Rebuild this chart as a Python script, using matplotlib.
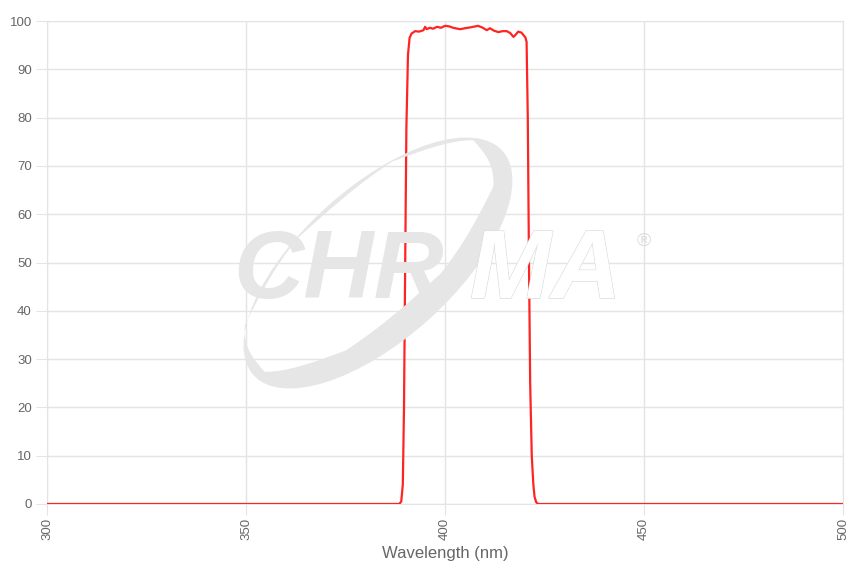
import numpy as np
import matplotlib
matplotlib.use("Agg")
import matplotlib.pyplot as plt
from matplotlib.patches import Ellipse, PathPatch
from matplotlib.path import Path
from matplotlib.transforms import IdentityTransform
import matplotlib.patheffects as pe

plt.rcParams['font.family'] = ['Liberation Sans', 'DejaVu Sans']

# transmission curve
wavelength = [300, 388.5, 389.0, 389.4, 389.7, 390.0, 390.3, 390.7, 391.1, 391.6, 392.5,
              393.5, 394.6, 395.0, 395.4, 396.2, 397.0, 398.0, 399.0, 400.0, 401.0,
              402.0, 403.8, 405.0, 406.5, 408.3, 409.5, 410.5, 411.3, 412.3, 413.4,
              414.5, 415.5, 416.4, 417.2, 417.8, 418.4, 419.2, 419.7, 420.2, 420.5,
              420.8, 421.1, 421.4, 421.8, 422.2, 422.5, 422.9, 423.4, 424.0, 500]
transmission = [0, 0, 0.5, 4, 20, 50, 78, 93, 96.5, 97.4, 97.9,
                97.8, 98.1, 98.8, 98.3, 98.6, 98.4, 98.8, 98.6, 99.0, 98.9,
                98.6, 98.3, 98.5, 98.7, 99.0, 98.6, 98.1, 98.5, 98.0, 97.7,
                97.9, 97.9, 97.5, 96.7, 97.2, 97.8, 97.6, 97.1, 96.6, 95.7,
                80, 50, 25, 10, 4, 1.5, 0.4, 0, 0, 0]

x_ticks = [300, 350, 400, 450, 500]
y_ticks = list(range(0, 101, 10))

grid_col = '#e4e4e4'
text_col = '#666666'

fig = plt.figure(figsize=(8.6, 5.68), dpi=100)
ax = fig.add_axes([47 / 860, 64 / 568, 796 / 860, 483 / 568])

# faint CHROMA watermark (pixel coords, origin bottom-left)
wm = '#e6e6e6'
outer = Ellipse((378, 305), 335, 152, angle=42)
inner = Ellipse((369, 312), 310, 122, angle=42)
p_out = outer.get_patch_transform().transform_path(outer.get_path())
p_in = inner.get_patch_transform().transform_path(inner.get_path())
p_in = Path(p_in.vertices[::-1], p_in.codes)
swoosh = Path.make_compound_path(p_out, p_in)
fig.patches.append(PathPatch(swoosh, transform=IdentityTransform(), facecolor=wm,
                             edgecolor='none', zorder=0))
fig.text(233 / 860, 270 / 568, 'CHR', fontsize=70, fontweight='bold', style='italic',
         color=wm, zorder=0)
t = fig.text(470 / 860, 270 / 568, 'MA', fontsize=70, fontweight='bold', style='italic',
             color='white', zorder=0)
t.set_path_effects([pe.withStroke(linewidth=1.2, foreground='#dedede'), pe.Normal()])
fig.text(637 / 860, 322 / 568, '\u00ae', fontsize=14, color='#dddddd', zorder=0)
ax.set_facecolor('none')

ax.plot(wavelength, transmission, color='#ff2424', linewidth=1.6, zorder=3)

ax.set_xlim(300, 500)
ax.set_ylim(0, 100)
ax.set_xticks(x_ticks)
ax.set_yticks(y_ticks)
ax.grid(True, color=grid_col, linewidth=1)
ax.set_axisbelow(True)
for s in ax.spines.values():
    s.set_color(grid_col)
ax.tick_params(axis='both', length=8, color=grid_col, labelcolor=text_col, labelsize=9.5)
ax.tick_params(axis='y', pad=3)
ax.tick_params(axis='x', labelrotation=90, pad=2)
ax.set_xlabel('Wavelength (nm)', fontsize=12, color=text_col, labelpad=4)

fig.savefig('out.png', dpi=100)
